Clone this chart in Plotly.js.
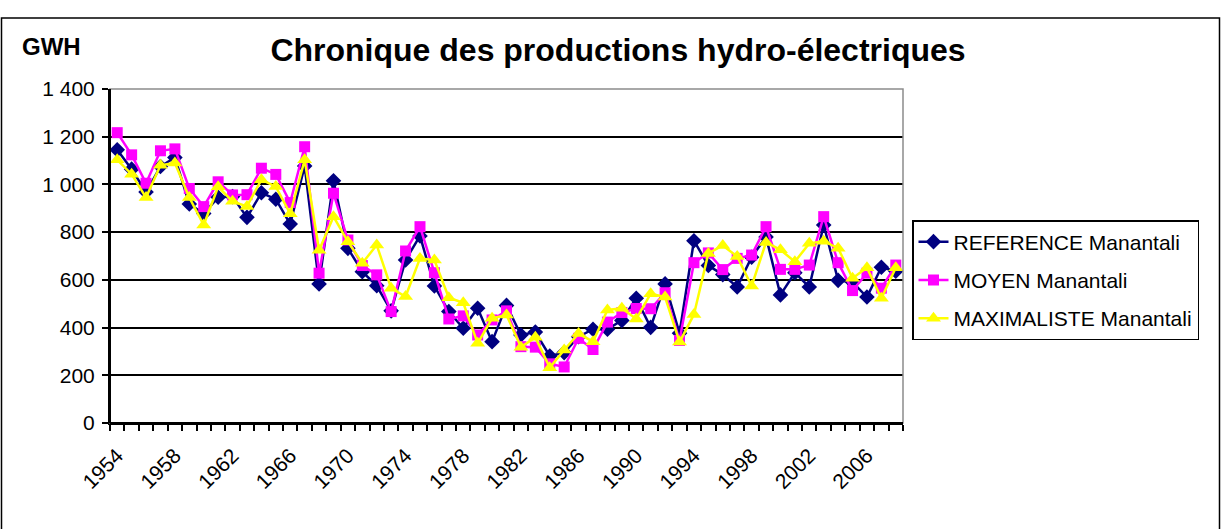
<!DOCTYPE html>
<html>
<head>
<meta charset="utf-8">
<script src="https://cdn.plot.ly/plotly-3.0.1.min.js"></script>
<style>
  html, body { margin: 0; padding: 0; background: #fff; }
  #chart { width: 1221px; height: 529px; }
</style>
</head>
<body>
<div id="chart"></div>
<script>
const years = [];
for (let y = 1954; y <= 2008; y++) years.push(y);

const reference = [
  1145, 1064, 968, 1075, 1113, 918, 878, 946, 949, 862,
  965, 938, 834, 1077, 583, 1015, 732, 634, 575, 470,
  683, 784, 574, 467, 397, 481, 341, 493, 369, 381,
  281, 295, 362, 393, 393, 430, 523, 401, 583, 376,
  764, 660, 622, 570, 695, 780, 537, 630, 570, 830,
  598, 590, 528, 653, 636
];
const moyen = [
  1217, 1124, 1005, 1141, 1149, 983, 907, 1011, 956, 957,
  1068, 1042, 924, 1158, 628, 963, 767, 660, 621, 467,
  721, 823, 630, 436, 449, 369, 432, 470, 320, 318,
  248, 235, 355, 308, 423, 463, 480, 479, 546, 346,
  672, 713, 643, 690, 704, 823, 644, 644, 662, 865,
  672, 555, 628, 565, 662
];
const maximaliste = [
  1103, 1043, 945, 1080, 1090, 945, 830, 990, 929, 908,
  1020, 991, 877, 1103, 724, 865, 760, 670, 746, 565,
  530, 690, 683, 525, 504, 334, 439, 453, 318, 359,
  232, 306, 375, 341, 474, 481, 436, 542, 528, 339,
  455, 711, 744, 698, 574, 757, 726, 676, 753, 762,
  733, 607, 651, 523, 651
];

const labelYears = [1954, 1958, 1962, 1966, 1970, 1974, 1978, 1982, 1986, 1990, 1994, 1998, 2002, 2006];

const W = 1221, H = 529;
const L = 110, R = 903, T = 89, B = 423;
const px = (x) => (x - L) / (R - L);
const py = (y) => (B - y) / (B - T);

const traces = [
  { name: "REFERENCE Manantali", y: reference, color: "#000080", symbol: "diamond", size: 12 },
  { name: "MOYEN Manantali", y: moyen, color: "#FF00FF", symbol: "square", size: 11 },
  { name: "MAXIMALISTE Manantali", y: maximaliste, color: "#FFFF00", symbol: "triangle-up", size: 13 }
].map((s, i) => ({
  x: years,
  y: s.y,
  name: s.name,
  type: "scatter",
  mode: "lines+markers",
  legendgroup: "g" + i,
  line: { color: s.color, width: 2.5 },
  marker: { color: s.color, symbol: s.symbol, size: s.size, line: { width: 0 } },
  hovertemplate: "%{x}<br>%{y} GWH<extra>" + s.name + "</extra>"
}));

const layout = {
  width: W,
  height: H,
  paper_bgcolor: "#fff",
  plot_bgcolor: "#fff",
  separators: ", ",
  font: { family: "Liberation Sans, Arial, sans-serif", color: "#000", size: 20 },
  margin: { l: L, r: W - R, t: T, b: H - B, pad: 0 },
  title: {
    text: "<b>Chronique des productions hydro-électriques</b>",
    font: { size: 32 },
    xref: "container", x: 618 / W, xanchor: "center",
    yref: "container", y: 1 - 50 / H, yanchor: "middle"
  },
  xaxis: {
    type: "linear",
    range: [1953.5, 2008.5],
    tickmode: "array",
    tickvals: labelYears,
    ticktext: labelYears.map(String),
    tickangle: -45,
    ticks: "",
    ticklabelstandoff: 10,
    showgrid: false,
    zeroline: false,
    showline: true,
    linecolor: "#000",
    linewidth: 2,
    tickfont: { size: 21 },
    minor: { ticks: "outside", ticklen: 6, tickwidth: 1.5, tickcolor: "#000", tick0: 1953.5, dtick: 1, showgrid: false }
  },
  yaxis: {
    range: [0, 1400],
    dtick: 200,
    separatethousands: true,
    ticks: "outside",
    ticklen: 6,
    tickwidth: 1.5,
    tickcolor: "#000",
    gridcolor: "#000",
    gridwidth: 1.5,
    zeroline: false,
    showline: true,
    linecolor: "#000",
    linewidth: 2,
    ticklabelstandoff: 3,
    tickfont: { size: 21 }
  },
  legend: {
    x: px(912), xanchor: "left",
    y: py(220), yanchor: "top",
    bgcolor: "#fff",
    bordercolor: "#000",
    borderwidth: 1.5,
    font: { size: 21 },
    tracegroupgap: 8,
    itemclick: false
  },
  annotations: [
    {
      text: "<b>GWH</b>", showarrow: false,
      xref: "paper", yref: "paper",
      x: px(20), xanchor: "left",
      y: py(46), yanchor: "middle",
      font: { size: 24 }
    }
  ],
  shapes: [
    {
      type: "rect", xref: "paper", yref: "paper", layer: "above",
      x0: 0, x1: 1, y0: 0, y1: 1,
      line: { color: "#8c8c8c", width: 1.5 }
    },
    {
      type: "line", xref: "paper", yref: "paper", layer: "above",
      x0: 0, x1: 0, y0: 0, y1: 1, line: { color: "#000", width: 2 }
    },
    {
      type: "line", xref: "paper", yref: "paper", layer: "above",
      x0: 0, x1: 1, y0: 0, y1: 0, line: { color: "#000", width: 2 }
    },
    {
      type: "path", xref: "paper", yref: "paper", layer: "above",
      path: `M ${px(1.5)} ${py(545)} L ${px(1.5)} ${py(18)} L ${px(1219.5)} ${py(18)} L ${px(1219.5)} ${py(545)}`,
      line: { color: "#000", width: 1.5 }
    }
  ]
};

Plotly.newPlot("chart", traces, layout, { displayModeBar: false });
</script>
</body>
</html>
